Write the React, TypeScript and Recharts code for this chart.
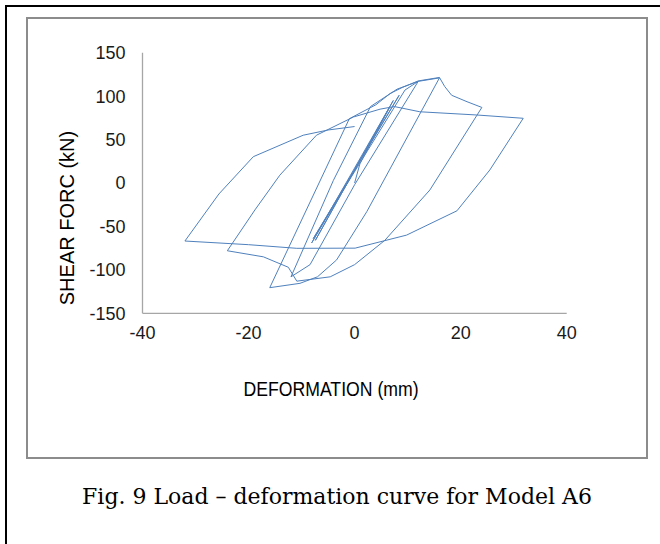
import { ScatterChart, Scatter, XAxis, YAxis, Label } from 'recharts';

// hysteresis loop (mm, kN), in loading order
const deformation = [
  0, 1, 6.5, -7.4, 7.3, -8.1, 8.4, -7.8, 9.5, 12,
  0, -8.4, -12,
  -4, 3, 8, 12, 16,
  2.3, -3.4, -7, -10.3, -16,
  -1, 4, 6.7, 9, 12, 16, 17, 18.3, 21.2, 24,
  14.2, 5.7, 0, -4.6, -10.9, -12.5, -17.2, -24,
  -18.8, -14.1, -7.2, -0.2, 4.8, 7.5, 12.3, 23, 31.8,
  25.5, 19.3, 9.8, 0.1, -10.9, -20, -32,
  -25.6, -19.1, -9.7, -5, 0,
];
const shearForce = [
  0, 22, 86, -66, 95, -69, 101, -64, 107, 117,
  -2, -94, -108,
  3, 88, 108, 117, 121,
  -33, -88.6, -108, -115.5, -120.5,
  74, 90, 103, 110, 117.5, 121.5, 111, 101, 93.6, 87,
  -8, -66, -94, -108, -113, -97, -85, -78,
  -31, 9, 55, 76, 85, 88, 82, 78.3, 74.5,
  15, -32, -60, -75, -75.2, -71, -66.8,
  -12.7, 30.3, 55, 61, 65,
];

const xTicks = [-40, -20, 0, 20, 40];
const yTicks = [-150, -100, -50, 0, 50, 100, 150];

const points = deformation.map((d, i) => ({ x: d, y: shearForce[i] }));

const tickStyle = { fontFamily: 'Liberation Sans, Arial, sans-serif', fontSize: 18, fill: '#1a1a1a' };

export default function App() {
  return (
    <div style={{ position: 'absolute', left: 0, top: 0, width: 660, height: 544, overflow: 'hidden', background: '#fff' }}>
      <div style={{ position: 'absolute', left: 5, top: 5, width: 720, height: 620, border: '2px solid #000' }} />
      <div style={{ position: 'absolute', left: 26, top: 17, width: 622, height: 442, boxSizing: 'border-box', border: '2px solid #8c8c8c' }} />
      <div style={{ position: 'absolute', left: 0, top: 0 }}>
        <ScatterChart width={660} height={544} margin={{ top: 52.7, right: 93.3, bottom: 200.7, left: 82.5 }}>
          <XAxis
            type="number"
            dataKey="x"
            domain={[-40, 40]}
            ticks={xTicks}
            tickLine={false}
            tickMargin={7}
            axisLine={{ stroke: '#a6a6a6', strokeWidth: 1.3 }}
            tick={tickStyle}
            height={30}
          />
          <YAxis
            type="number"
            dataKey="y"
            domain={[-150, 150]}
            ticks={yTicks}
            tickLine={false}
            tickMargin={11}
            axisLine={{ stroke: '#a6a6a6', strokeWidth: 1.3 }}
            tick={tickStyle}
            width={60}
          >
            <Label
              value="SHEAR FORC (kN)"
              angle={-90}
              position="insideLeft"
              offset={-16}
              dy={35}
              style={{ textAnchor: 'middle', fontFamily: 'Liberation Sans, Arial, sans-serif', fontSize: 20, fill: '#000' }}
            />
          </YAxis>
          <Scatter
            data={points}
            line={{ stroke: '#4F81BD', strokeWidth: 1 }}
            lineType="joint"
            shape={() => <g />}
            isAnimationActive={false}
          />
        </ScatterChart>
      </div>
      <div
        style={{
          position: 'absolute',
          left: 331,
          top: 378,
          fontFamily: 'Liberation Sans, Arial, sans-serif',
          fontSize: 21,
          lineHeight: '21px',
          whiteSpace: 'nowrap',
          color: '#000',
          transform: 'translateX(-50%) scaleX(0.84)',
        }}
      >
        DEFORMATION (mm)
      </div>
      <div
        style={{
          position: 'absolute',
          left: 0,
          width: 674,
          top: 484,
          textAlign: 'center',
          fontFamily: 'DejaVu Serif, serif',
          fontSize: 22,
          color: '#000',
          whiteSpace: 'nowrap',
        }}
      >
        Fig. 9 Load – deformation curve for Model A6
      </div>
    </div>
  );
}
